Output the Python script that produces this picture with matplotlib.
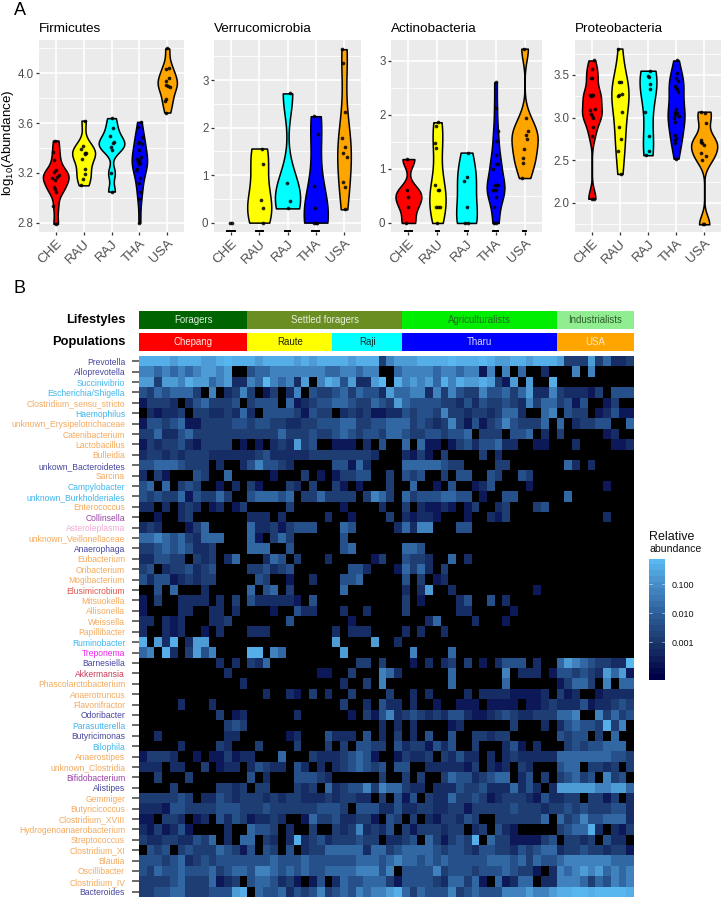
import numpy as np
import matplotlib
matplotlib.use('Agg')
import matplotlib.pyplot as plt
from matplotlib.colors import LinearSegmentedColormap, LogNorm

plt.rcParams['font.family'] = ['Liberation Sans', 'DejaVu Sans']
plt.rcParams['mathtext.default'] = 'regular'

W, H = 722, 900

# panel A data
pops_short = ['CHE', 'RAU', 'RAJ', 'THA', 'USA']
pop_colors = ['#FF0000', '#FFFF00', '#00FFFF', '#0000FF', '#FFA500']

firm_vals = [
    [3.46, 3.37, 3.30, 3.22, 3.21, 3.18, 3.17, 3.16, 3.14, 3.09, 3.07, 3.05, 2.93, 2.79],
    [3.62, 3.42, 3.39, 3.36, 3.36, 3.35, 3.31, 3.23, 3.19, 3.15, 3.10],
    [3.64, 3.56, 3.50, 3.45, 3.44, 3.41, 3.38, 3.20, 3.05],
    [3.61, 3.565, 3.49, 3.45, 3.44, 3.435, 3.38, 3.33, 3.31, 3.30, 3.29, 3.28, 3.275, 3.235, 3.22, 3.155, 3.12, 3.05, 2.99, 2.80],
    [4.20, 4.04, 4.035, 3.96, 3.94, 3.91, 3.90, 3.89, 3.79, 3.78, 3.685],
]
firm_jit = [
    [-2, -8, -6, 0, -6, 9, 4, -11, -1, -6, -1, 1, -8, 2],
    [4, -1, -9, 3, 7, 5, -4, 3, 3, -1, -8],
    [0, 5, -5, 7, 4, -2, 3, -3, 3],
    [5, -3, 8, 0, -3, 7, 0, 5, -6, 0, -3, 3, -2, -8, -10, 3, 0, 3, 0, 0],
    [0, 6, -5, 6, -5, -5, 3, 7, -3, -8, -3],
]
firm_widths = [0.92, 0.82, 0.92, 0.55, 0.69]

verr_vals = [
    [0, 0],
    [1.56, 1.24, 0.48, 0.30, 0],
    [2.72, 0.83, 0.45, 0.30],
    [2.24, 1.87, 0.78, 0.30, 0, 0, 0],
    [3.65, 3.36, 2.33, 1.78, 1.60, 1.46, 1.38, 0.85, 0.76, 0.28],
]
verr_jit = [
    [-2, 2],
    [10, 12, 5, 13, 12],
    [8, -3, 7, 0],
    [-5, 6, -6, -2, -5, 0, 5],
    [-5, -4, 4, -6, 3, -3, 9, -3, 3, 4],
]
verr_widths = [0.001, 0.85, 0.89, 0.85, 0.48]
verr_caps = [0.15, 0.12, 0.08, 0.13, 0]

act_vals = [
    [1.18, 0.60, 0.48, 0.30, 0],
    [1.86, 1.80, 1.48, 1.38, 0.70, 0.60, 0.60, 0.30, 0.30, 0.30, 0],
    [1.30, 0.85, 0.78, 0.30, 0, 0],
    [2.60, 2.12, 1.70, 1.52, 1.25, 1.08, 1.08, 1.00, 0.70, 0.70, 0.70, 0.60, 0.60, 0.60, 0.48, 0.30, 0, 0],
    [3.22, 1.93, 1.70, 1.62, 1.55, 1.36, 1.20, 1.10, 0.83],
]
act_jit = [
    [-3, -5, -2, -2, -6],
    [3, -4, -6, -4, -8, 3, 5, -4, 3, 8, -1],
    [3, 1, -6, 0, -3, 3],
    [0, 0, 6, 0, 2, 1, 6, -7, 0, 7, -3, -8, -4, 0, 1, -6, -5, 0],
    [-2, 5, 9, 5, 6, -3, -4, -5, -7],
]
act_widths = [0.89, 0.56, 0.71, 0.61, 0.90]
act_caps = [0.12, 0.06, 0.06, 0.10, 0.05]

prot_vals = [
    [3.67, 3.57, 3.47, 3.47, 3.27, 3.26, 3.26, 3.25, 3.10, 3.09, 3.04, 3.02, 3.00, 2.89, 2.78, 2.05, 2.05],
    [3.81, 3.42, 3.42, 3.28, 3.26, 3.25, 3.07, 2.89, 2.75, 2.61, 2.34],
    [3.55, 3.49, 3.48, 3.39, 3.33, 3.07, 2.78, 2.61, 2.56],
    [3.67, 3.52, 3.47, 3.43, 3.37, 3.35, 3.33, 3.30, 3.10, 3.07, 3.05, 3.03, 3.02, 3.00, 2.95, 2.80, 2.76, 2.74, 2.70, 2.52],
    [3.07, 3.06, 2.94, 2.74, 2.72, 2.70, 2.68, 2.58, 2.55, 2.50, 1.75, 1.75],
]
prot_jit = [
    [6, 1, -3, 1, 3, -5, 0, -2, 8, -7, -3, 0, 4, 4, 1, 7, 0],
    [-7, -3, 2, 5, -2, -6, 7, -4, 3, -6, 2],
    [7, 0, 3, 7, 5, -9, 2, 3, -5],
    [2, 3, 0, 7, -2, 1, 4, 5, 1, -4, 3, -3, 8, -5, -2, -3, 1, -2, -3, 0],
    [-8, 4, 6, -8, -9, -7, 0, -8, 5, -7, 0, -3],
]
prot_widths = [0.70, 0.61, 0.60, 0.60, 0.93]

# panel B data, one digit per cell, blocks are Chepang Raute Raji Tharu USA
genera = ['Prevotella', 'Alloprevotella', 'Succinivibrio', 'Escherichia/Shigella',
          'Clostridium_sensu_stricto', 'Haemophilus', 'unknown_Erysipelotrichaceae',
          'Catenibacterium', 'Lactobacillus', 'Bulleidia', 'unkown_Bacteroidetes',
          'Sarcina', 'Campylobacter', 'unknown_Burkholderiales', 'Enterococcus',
          'Collinsella', 'Asteroleplasma', 'unknown_Veillonellaceae', 'Anaerophaga',
          'Eubacterium', 'Oribacterium', 'Mogibacterium', 'Elusimicrobium', 'Mitsuokella',
          'Allisonella', 'Weissella', 'Papillibacter', 'Ruminobacter', 'Treponema',
          'Barnesiella', 'Akkermansia', 'Phascolarctobacterium', 'Anaerotruncus',
          'Flavonifractor', 'Odoribacter', 'Parasutterella', 'Butyricimonas', 'Bilophila',
          'Anaerostipes', 'unknown_Clostridia', 'Bifidobacterium', 'Alistipes', 'Gemmiger',
          'Butyricicoccus', 'Clostridium_XVIII', 'Hydrogenoanaerobacterium', 'Streptococcus',
          'Clostridium_XI', 'Blautia', 'Oscillibacter', 'Clostridium_IV', 'Bacteroides']

F, B, P, V, A, T, S, E = '#F5A95C', '#45459F', '#3FB5EC', '#C23A55', '#9A3FA8', '#F2A8D2', '#F020F0', '#E2504A'
genus_colors = [B, B, P, P, F, P, F, F, F, F, B, F, P, P, F, A, T, F, B, F, F, F, E, F,
                F, F, F, P, S, B, V, F, F, F, B, P, B, P, F, F, A, B, F, F, F, F, F, F, F, F, F, B]

heat_rows = [
    '88887888778988 87888878788 887888367 77888898889877887888 7333735223',
    '66565656776700 45566666665 566566005 66665665661606050020 0060600000',
    '77377687756722 65965627068 747227908 67675868778731707008 0000000000',
    '43545553060236 30130260433 453544275 56626364336445357226 3222130444',
    '13332024533340 34440512344 554335437 54444332424334326355 3414001300',
    '02122303322325 20444431433 023231122 43443633233235520056 0433012411',
    '14434511333344 34433223344 455334455 53432363141346433350 5023344005',
    '33522453333333 33335333433 454344355 43344344503330445020 3000001200',
    '13233421333301 01023273400 111020400 50511013424452200110 0020000112',
    '23323233322222 23422222333 333332000 21310300003020000000 0000000000',
    '44555433302002 46443200000 441520000 55555433000033000000 0520200000',
    '20310004300500 00010003010 133440030 43400304400430043000 0000000000',
    '45050343001020 31000320300 310100030 05001040012400001000 0000001000',
    '43433514335300 45554503353 333036530 53444554401004400000 0500000000',
    '22020232012013 00000300000 010000200 30211210130023000340 0000000000',
    '00100230000000 22202000002 001000030 21221000100213000000 0000002000',
    '23200013500000 52231344400 054000002 52660004400000000000 0000000000',
    '55654532555000 51035300000 040000000 00000000000000000000 0000000000',
    '33454542230000 55500400000 045000000 55400000000000000000 0000000000',
    '22443303230250 00254030002 000001300 43320050200000000000 0000000000',
    '34023342340000 33423400000 004420001 53520300000000000000 0000000000',
    '42441232330000 04300100200 044500000 40301200000000000000 0000000000',
    '00405000200000 50450300000 050000000 20270020000000000100 0000000000',
    '10300222202030 42222210400 000000000 30100002400402000000 0000000000',
    '10000220022020 00010042200 020020000 30000002200000100000 0000000000',
    '22021200022300 00000400000 001000000 00025000020001000000 0000000000',
    '20021200102000 22200000000 202220000 20200200000000000000 0000000000',
    '80728027700000 00000000000 700007002 00000000000000000000 0000000000',
    '56082037460000 88065000000 070000000 06000050000000000000 0000000000',
    '00000000002020 32500000000 000330300 01020230301024440200 5765433229',
    '00000000000200 00000000011 003000652 00000050000006022201 4434327571',
    '00000000000002 00000000000 020030600 00000050000005000000 1355306055',
    '00000000000000 00200210302 003000030 02020000202222111120 3120012222',
    '00000200020000 00000000000 030020422 02001001110111101123 2224122343',
    '00000000003012 00000020000 001031462 34323244211234322333 5560063534',
    '00000000000343 00000000000 000000202 02000012000000300020 2454438360',
    '00200000000220 00000120004 222040203 02040040033233000000 4344030500',
    '00000200003200 03000030003 030443304 23314240030002410200 0343445550',
    '13332001011312 20005000322 234541001 32230324220202322222 5555555443',
    '22202200301220 24322042020 234543404 40022222130212032000 4550332303',
    '00300030000000 40200044432 000000300 30300354423455024030 3453406340',
    '00003000003323 03300032305 234463655 32202224334222524202 7777766775',
    '33333430224323 33232332223 233220304 14032253343123332142 2330331302',
    '22214433334443 33433333344 430444224 22332233133333433323 3434333442',
    '11033201204243 12232001533 422331043 03021332430033333350 5346445552',
    '21312410000200 54430200300 323623240 31333233023042100000 3455820213',
    '32233224350205 50320282342 333433022 34053134380533111134 0332304220',
    '04340343335431 40430402335 555525534 55554344324433243455 2334332331',
    '44434523434444 44454445444 444555456 55454544444555453544 5666666555',
    '43544544453455 46654545445 555666460 44446344434445433102 6567675656',
    '33334533351230 45542310140 254455531 44443255351051255022 6665354656',
    '33445533344478 05445243463 454656678 53544463454446667667 8899899998',
]

level_values = [np.nan, 1.8e-4, 5e-4, 1.3e-3, 4e-3, 1.5e-2, 6e-2, 2e-1, 4.5e-1, 7e-1]

lifestyles = ['Foragers', 'Settled foragers', 'Agriculturalists', 'Industrialists']
lifestyle_sizes = [14, 20, 20, 10]
lifestyle_colors = ['#006400', '#6B8E23', '#00EE00', '#90EE90']
lifestyle_text = ['#DDEEDD', '#E8EED8', '#1E6E1E', '#2E5A2E']
populations = ['Chepang', 'Raute', 'Raji', 'Tharu', 'USA']
population_sizes = [14, 11, 9, 20, 10]
population_text = ['#FFE8E8', '#222200', '#003333', '#D8D8FF', '#FFE8C8']

cbar_ticks = [0.001, 0.01, 0.1]
cbar_labels = ['0.001', '0.010', '0.100']


def px_axes(x0, y0, x1, y1):
    return fig.add_axes([x0 / W, 1 - y1 / H, (x1 - x0) / W, (y1 - y0) / H])


def nrd0(kde):
    x = kde.dataset[0]
    sd = np.std(x, ddof=1)
    q = np.subtract(*np.percentile(x, [75, 25])) / 1.34
    s = min(sd, q) if q > 0 else sd
    return 0.9 * s * len(x) ** -0.2 / sd


def violin_panel(box, title, vals, jit, widths, ylim, yticks, fmt, minor, caps=None, spacing=85):
    ax = px_axes(*box)
    ax.set_facecolor('#EBEBEB')
    for s in ax.spines.values():
        s.set_visible(False)
    ax.set_axisbelow(True)
    ax.grid(True, which='major', color='white', lw=1.2)
    ax.grid(True, which='minor', axis='y', color='white', lw=0.6)

    parts = ax.violinplot(vals, positions=range(5), widths=widths, showextrema=False,
                          bw_method=nrd0, points=200)
    for body, c in zip(parts['bodies'], pop_colors):
        body.set_facecolor(c)
        body.set_edgecolor('black')
        body.set_linewidth(1.1)
        body.set_alpha(1)
        body.set_zorder(2)
    for i in range(5):
        xs = i + np.array(jit[i]) / spacing
        ax.scatter(xs, vals[i], s=7, color='black', alpha=0.85, linewidths=0, zorder=3)
    if caps:
        for i, w in enumerate(caps):
            if w:
                ax.plot([i - w, i + w], [0.004, 0.004], color='black', lw=1.4,
                        transform=ax.get_xaxis_transform(), zorder=4)

    ax.set_xlim(-0.6, 4.6)
    ax.set_ylim(*ylim)
    ax.set_xticks(range(5))
    ax.set_xticklabels(pops_short, rotation=45, ha='right', va='top', rotation_mode='anchor',
                       fontsize=9.6, color='#4D4D4D')
    ax.set_yticks(yticks)
    ax.set_yticklabels([fmt % t for t in yticks], fontsize=8.3, color='#4D4D4D')
    ax.set_yticks(minor, minor=True)
    ax.tick_params(axis='both', which='major', color='#333333', length=2.5, width=0.9, pad=1.5)
    ax.tick_params(axis='y', which='minor', length=0)
    ax.set_title(title, loc='left', fontsize=9.7, pad=6, color='black')
    return ax


fig = plt.figure(figsize=(W / 100, H / 100), dpi=100)

fig.text(14 / W, 1 - 15 / H, 'A', fontsize=13, va='baseline')
fig.text(14 / W, 1 - 293 / H, 'B', fontsize=13, va='baseline')

violin_panel((39, 40, 184, 232), 'Firmicutes', firm_vals, firm_jit, firm_widths,
             (2.725, 4.268), [2.8, 3.2, 3.6, 4.0], '%.1f', [3.0, 3.4, 3.8, 4.2], spacing=84)
fig.text(8 / W, 1 - 143 / H, r'$log_{10}$(Abundance)', fontsize=9.6, rotation=90, ha='center', va='center')
violin_panel((214, 40, 361, 232), 'Verrucomicrobia', verr_vals, verr_jit, verr_widths,
             (-0.197, 3.844), [0, 1, 2, 3], '%d', [0.5, 1.5, 2.5, 3.5], caps=verr_caps, spacing=88)
violin_panel((391, 40, 542, 232), 'Actinobacteria', act_vals, act_jit, act_widths,
             (-0.167, 3.38), [0, 1, 2, 3], '%d', [0.5, 1.5, 2.5], caps=act_caps, spacing=87)
violin_panel((575, 40, 721, 232), 'Proteobacteria', prot_vals, prot_jit, prot_widths,
             (1.66, 3.91), [2.0, 2.5, 3.0, 3.5], '%.1f', [1.75, 2.25, 2.75, 3.25, 3.75], spacing=84)

# annotation strips
strip = px_axes(139, 311, 634, 329)
left = 0
for name, n, c, tc in zip(lifestyles, lifestyle_sizes, lifestyle_colors, lifestyle_text):
    strip.barh(0, n, left=left, height=1, color=c, linewidth=0)
    strip.text(left + n / 2, 0, name, ha='center', va='center', fontsize=6.9, color=tc)
    left += n
strip.set_xlim(0, 64)
strip.set_ylim(-0.5, 0.5)
strip.axis('off')
fig.text(125 / W, 1 - 320 / H, 'Lifestyles', ha='right', va='center', fontsize=9.3, fontweight='bold')

strip = px_axes(139, 333, 634, 351)
left = 0
for name, n, c, tc in zip(populations, population_sizes, pop_colors, population_text):
    strip.barh(0, n, left=left, height=1, color=c, linewidth=0)
    strip.text(left + n / 2, 0, name, ha='center', va='center', fontsize=6.9, color=tc)
    left += n
strip.set_xlim(0, 64)
strip.set_ylim(-0.5, 0.5)
strip.axis('off')
fig.text(125 / W, 1 - 342 / H, 'Populations', ha='right', va='center', fontsize=9.3, fontweight='bold')

# heatmap
cells = np.array([[level_values[int(ch)] for ch in r.replace(' ', '')] for r in heat_rows])
cmap = LinearSegmentedColormap.from_list('abund', [(0, '#000046'), (0.31, '#1C3A6E'), (0.55, '#2D5F9B'),
                                                   (0.79, '#468CC8'), (1, '#5AB8F0')])
cmap.set_bad('black')
norm = LogNorm(4.9e-5, 0.73)

ax = px_axes(139, 356, 634, 897)
ax.imshow(np.ma.masked_invalid(cells), aspect='auto', cmap=cmap, norm=norm, interpolation='nearest')
for s in ax.spines.values():
    s.set_visible(False)
ax.set_xticks([])
ax.set_yticks(range(len(genera)))
ax.set_yticklabels(genera, fontsize=6.15)
for lab, c in zip(ax.get_yticklabels(), genus_colors):
    lab.set_color(c)
ax.tick_params(axis='y', length=5, width=1.1, color='#444444', pad=5)

# legend
fig.text(649 / W, 1 - 537 / H, 'Relative', fontsize=9, va='center', color='#111111')
fig.text(649 / W, 1 - 549.5 / H, 'abundance', fontsize=7.6, va='center', color='#111111')
cax = px_axes(649, 559, 665, 680)
steps = np.logspace(np.log10(norm.vmin), np.log10(norm.vmax), 20)[::-1].reshape(-1, 1)
cax.imshow(steps, aspect='auto', cmap=cmap, norm=norm, interpolation='nearest',
           extent=[0, 1, np.log10(norm.vmin), np.log10(norm.vmax)])
cax.set_xticks([])
cax.yaxis.tick_right()
cax.set_yticks(np.log10(cbar_ticks))
cax.set_yticklabels(cbar_labels, fontsize=6.5, color='#111111')
cax.tick_params(axis='y', length=0, pad=5)
for t in np.log10(cbar_ticks):
    cax.plot([0, 0.2], [t, t], color='white', lw=0.5, alpha=0.7)
    cax.plot([0.8, 1], [t, t], color='white', lw=0.5, alpha=0.7)
cax.set_xlim(0, 1)
for s in cax.spines.values():
    s.set_visible(False)

fig.savefig('out.png', dpi=100)
